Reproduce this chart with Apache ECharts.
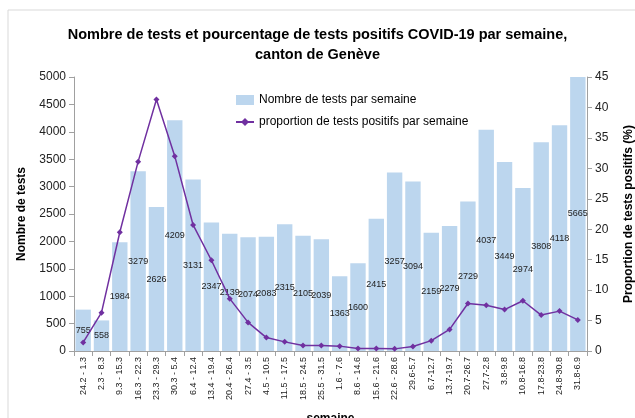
<!DOCTYPE html>
<html><head><meta charset="utf-8">
<script src="https://cdn.jsdelivr.net/npm/echarts@6/dist/echarts.min.js"></script>
<style>html,body{margin:0;padding:0;background:#fff}#c{width:635px;height:418px}</style>
</head><body><div id="c"></div>
<script>
const categories = ['24.2 - 1.3','2.3 - 8.3','9.3 - 15.3','16.3 - 22.3','23.3 - 29.3','30.3 - 5.4','6.4 - 12.4','13.4 - 19.4','20.4 - 26.4','27.4 - 3.5','4.5 - 10.5','11.5 - 17.5','18.5 - 24.5','25.5 - 31.5','1.6 - 7.6','8.6 - 14.6','15.6 - 21.6','22.6 - 28.6','29.6-5.7','6.7-12.7','13.7-19.7','20.7-26.7','27.7-2.8','3.8-9.8','10.8-16.8','17.8-23.8','24.8-30.8','31.8-6.9'];
const tests = [755,558,1984,3279,2626,4209,3131,2347,2139,2074,2083,2315,2105,2039,1363,1600,2415,3257,3094,2159,2279,2729,4037,3449,2974,3808,4118,5665];
const positivePct = [1.4,6.3,19.5,31.1,41.3,32.0,20.7,14.9,8.6,4.7,2.2,1.5,0.9,0.9,0.8,0.4,0.4,0.35,0.75,1.7,3.55,7.8,7.5,6.8,8.25,5.9,6.55,5.1];
const leftTicks = {min:0,max:5000,interval:500};
const rightTicks = {min:0,max:45,interval:5};

const chart = echarts.init(document.getElementById('c'));
const font = 'Liberation Sans';
chart.setOption({
  animation:false,
  textStyle:{fontFamily:font},
  title:{text:'Nombre de tests et pourcentage de tests positifs COVID-19 par semaine,\ncanton de Genève',left:'center',top:20,
    textStyle:{fontSize:14.5,fontWeight:'bold',color:'#000',lineHeight:20,fontFamily:font}},
  graphic:[{type:'rect',shape:{x:8,y:10,width:700,height:500},style:{fill:'none',stroke:'#d9d9d9',lineWidth:1},silent:true}],
  legend:{orient:'vertical',left:230,top:89,itemGap:10,itemWidth:18,itemHeight:10,
    textStyle:{fontSize:12,color:'#000',fontFamily:font},
    data:[{name:'Nombre de tests par semaine',icon:'rect'},{name:'proportion de tests positifs par semaine'}]},
  grid:{left:74,right:48,top:77,bottom:67,containLabel:false,outerBoundsMode:'none'},
  xAxis:{type:'category',data:categories,
    name:'semaine',nameLocation:'middle',nameGap:62,nameTextStyle:{fontWeight:'bold',fontSize:12,color:'#000'},
    axisLine:{lineStyle:{color:'#a0a0a0'}},axisTick:{show:true,interval:0,lineStyle:{color:'#a0a0a0'}},
    axisLabel:{interval:0,rotate:90,fontSize:9,color:'#222',margin:6}},
  yAxis:[
    {type:'value',min:leftTicks.min,max:leftTicks.max,interval:leftTicks.interval,
     name:'Nombre de tests',nameLocation:'middle',nameGap:46,nameTextStyle:{fontWeight:'bold',fontSize:12,color:'#000'},
     axisLine:{show:true,lineStyle:{color:'#a0a0a0'}},axisTick:{show:true,lineStyle:{color:'#a0a0a0'}},
     splitLine:{show:false},axisLabel:{fontSize:12,color:'#222',formatter:v=>String(v)}},
    {type:'value',min:rightTicks.min,max:rightTicks.max,interval:rightTicks.interval,
     name:'Proportion de tests positifs (%)',nameLocation:'middle',nameGap:36,nameTextStyle:{fontWeight:'bold',fontSize:12,color:'#000'},
     axisLine:{show:true,lineStyle:{color:'#a0a0a0'}},axisTick:{show:true,lineStyle:{color:'#a0a0a0'}},
     splitLine:{show:false},axisLabel:{fontSize:12,color:'#222',formatter:v=>String(v)}}
  ],
  series:[
    {name:'Nombre de tests par semaine',type:'bar',data:tests,barCategoryGap:'16%',
     itemStyle:{color:'#bcd6ee'},
     label:{show:true,position:'inside',fontSize:9,color:'#222'}},
    {name:'proportion de tests positifs par semaine',type:'line',yAxisIndex:1,data:positivePct,
     symbol:'diamond',symbolSize:6,
     lineStyle:{color:'#7030a0',width:1.5},itemStyle:{color:'#7030a0'}}
  ]
});
</script></body></html>
